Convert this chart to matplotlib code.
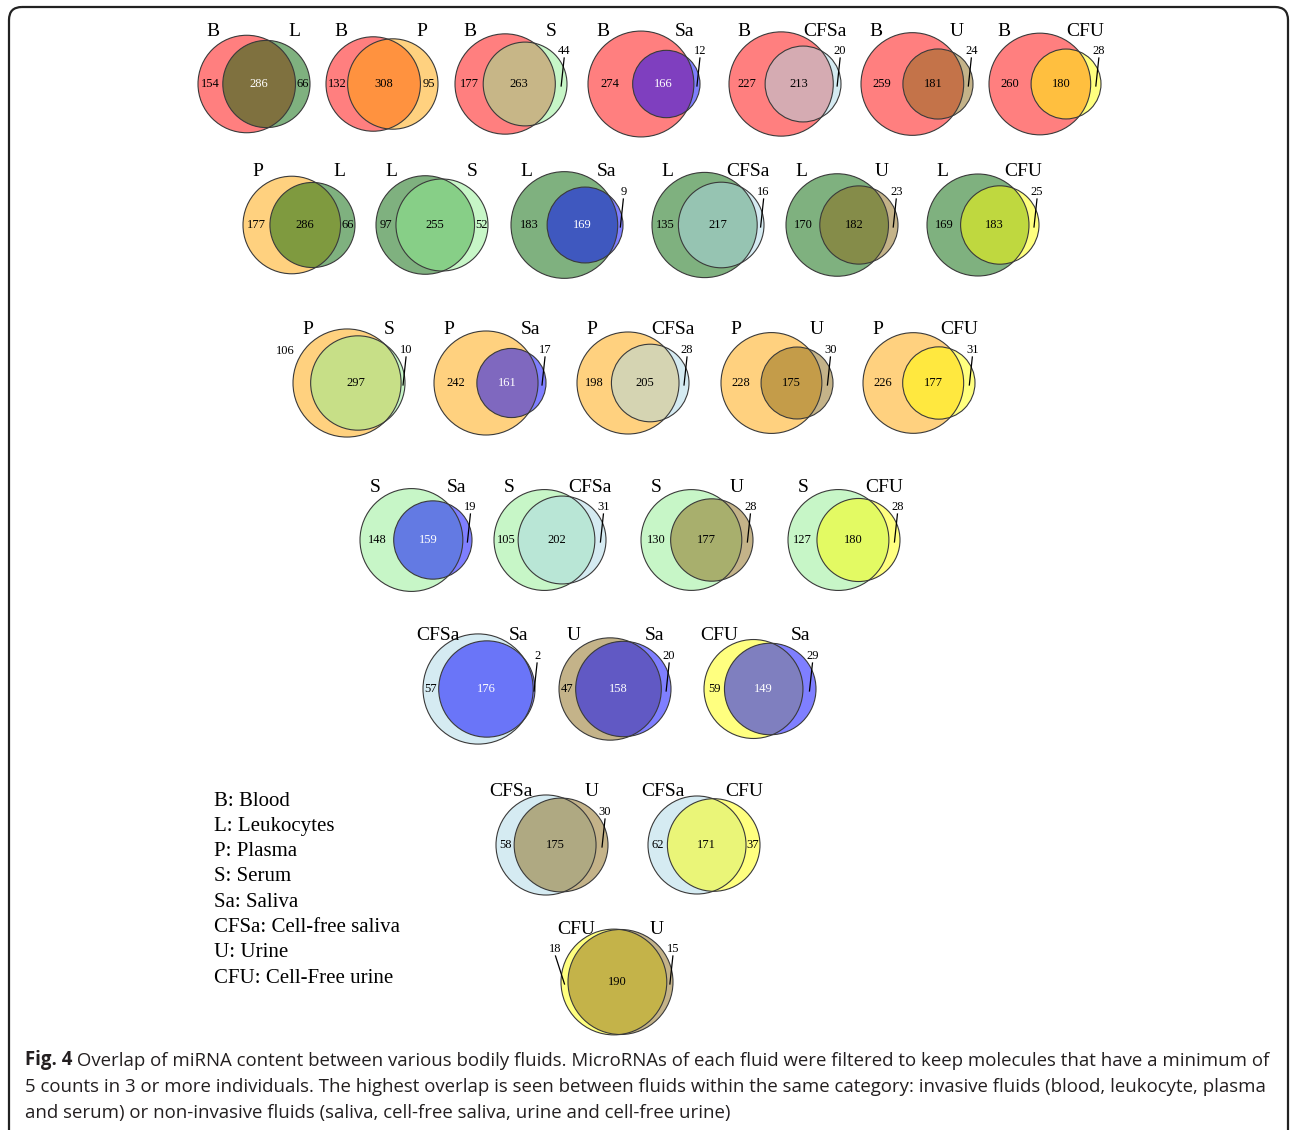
import numpy as np
import matplotlib
matplotlib.use("Agg")
import matplotlib.pyplot as plt
from matplotlib.patches import Circle, FancyBboxPatch
from matplotlib.colors import to_rgb

# pairwise overlaps: (first fluid, second fluid), counts only-first / both / only-second
pairs = [("B", "L"), ("B", "P"), ("B", "S"), ("B", "Sa"), ("B", "CFSa"), ("B", "U"), ("B", "CFU"),
         ("P", "L"), ("L", "S"), ("L", "Sa"), ("L", "CFSa"), ("L", "U"), ("L", "CFU"),
         ("P", "S"), ("P", "Sa"), ("P", "CFSa"), ("P", "U"), ("P", "CFU"),
         ("S", "Sa"), ("S", "CFSa"), ("S", "U"), ("S", "CFU"),
         ("CFSa", "Sa"), ("U", "Sa"), ("CFU", "Sa"),
         ("CFSa", "U"), ("CFSa", "CFU"),
         ("CFU", "U")]
only_a = [154, 132, 177, 274, 227, 259, 260,
          177, 97, 183, 135, 170, 169,
          106, 242, 198, 228, 226,
          148, 105, 130, 127,
          57, 47, 59,
          58, 62,
          18]
both = [286, 308, 263, 166, 213, 181, 180,
        286, 255, 169, 217, 182, 183,
        297, 161, 205, 175, 177,
        159, 202, 177, 180,
        176, 158, 149,
        175, 171,
        190]
only_b = [66, 95, 44, 12, 20, 24, 28,
          66, 52, 9, 16, 23, 25,
          10, 17, 28, 30, 31,
          19, 31, 28, 28,
          2, 20, 29,
          30, 37,
          15]

legend_lines = ["B: Blood", "L: Leukocytes", "P: Plasma", "S: Serum", "Sa: Saliva",
                "CFSa: Cell-free saliva", "U: Urine", "CFU: Cell-Free urine"]

caption_bold = "Fig. 4"
caption_lines = [
    " Overlap of miRNA content between various bodily fluids. MicroRNAs of each fluid were filtered to keep molecules that have a minimum of",
    "5 counts in 3 or more individuals. The highest overlap is seen between fluids within the same category: invasive fluids (blood, leukocyte, plasma",
    "and serum) or non-invasive fluids (saliva, cell-free saliva, urine and cell-free urine)",
]

colors = {"B": "#ff0000", "L": "#006400", "P": "#ffa500", "S": "#90ee90",
          "Sa": "#0000ff", "CFSa": "#add8e6", "U": "#8b6914", "CFU": "#ffff00"}

# layout: rows of diagrams (left edge of each diagram, circle centre height)
row_y = [84, 225, 383, 540, 689, 845, 982]
row_left = [[198, 326, 455, 588, 729, 861, 989],
            [243, 376, 511, 652, 786, 927],
            [293, 434, 577, 721, 863],
            [360, 494, 641, 788],
            [423, 559, 704],
            [496, 648],
            [561]]
WIDTH = 112
# how the side numbers are placed: 'in' inside, 'out' outside, 'call' with a leader line
mode_a = ["in"] * 28
mode_a[13] = "out"
mode_a[27] = "call"
mode_b = ["call"] * 28
for k in (0, 1, 7, 8, 26):
    mode_b[k] = "in"

SERIF = "Liberation Serif"


def lens_area(d, r1, r2):
    if d >= r1 + r2:
        return 0.0
    if d <= abs(r1 - r2):
        return np.pi * min(r1, r2) ** 2
    a1 = r1 ** 2 * np.arccos((d ** 2 + r1 ** 2 - r2 ** 2) / (2 * d * r1))
    a2 = r2 ** 2 * np.arccos((d ** 2 + r2 ** 2 - r1 ** 2) / (2 * d * r2))
    a3 = 0.5 * np.sqrt((-d + r1 + r2) * (d + r1 - r2) * (d - r1 + r2) * (d + r1 + r2))
    return a1 + a2 - a3


def solve_distance(r1, r2, target):
    lo, hi = abs(r1 - r2), r1 + r2
    for _ in range(80):
        mid = (lo + hi) / 2
        if lens_area(mid, r1, r2) > target:
            lo = mid
        else:
            hi = mid
    return (lo + hi) / 2


def blend(names):
    c = np.ones(3)
    for n in names:
        c = 0.5 * c + 0.5 * np.array(to_rgb(colors[n]))
    return c


def text_color(c):
    lum = 0.299 * c[0] + 0.587 * c[1] + 0.114 * c[2]
    if lum < 0.45 or c[2] > max(c[0], c[1]) + 0.15:
        return "white"
    return "black"


fig = plt.figure(figsize=(12.92, 11.3), dpi=100)
ax = fig.add_axes([0, 0, 1, 1])
ax.set_xlim(0, 1292)
ax.set_ylim(1130, 0)
ax.axis("off")

# outer frame
ax.add_patch(FancyBboxPatch((9, 7), 1279, 1140, boxstyle="round,pad=0,rounding_size=13",
                            fill=False, lw=1.6, ec="#222222"))


def number(x, y, val, color="black"):
    ax.text(x, y, str(val), family=SERIF, fontsize=9, color=color, ha="center", va="center")


def callout(xr, cy, val, side):
    dx = 3 if side > 0 else -9
    tx = xr + dx
    number(tx, cy - 33, val)
    ax.plot([tx, xr], [cy - 26, cy + 2], color="black", lw=0.9)


idx = 0
for cy, lefts in zip(row_y, row_left):
    for x0 in lefts:
        na, nb = pairs[idx]
        A = only_a[idx] + both[idx]
        B = only_b[idx] + both[idx]
        ra, rb = np.sqrt(A / np.pi), np.sqrt(B / np.pi)
        d = solve_distance(ra, rb, both[idx])
        left, right = min(-ra, d - rb), max(ra, d + rb)
        s = WIDTH / (right - left)
        xa = x0 + (-left) * s
        xb = xa + d * s
        Ra, Rb = ra * s, rb * s

        for xc, r, n in ((xa, Ra, na), (xb, Rb, nb)):
            ax.add_patch(Circle((xc, cy), r, fc=to_rgb(colors[n]) + (0.5,), ec="none"))
        for xc, r in ((xa, Ra), (xb, Rb)):
            ax.add_patch(Circle((xc, cy), r, fc="none", ec="#3a3a3a", lw=0.8))

        la, lb = xa - Ra, xb - Rb
        ra_, rb_ = xa + Ra, xb + Rb
        # region centres along the axis of the two circles
        xa_only = (la + lb) / 2
        x_mid = (max(la, lb) + min(ra_, rb_)) / 2
        xb_only = (ra_ + rb_) / 2

        if mode_a[idx] == "in":
            number(xa_only, cy, only_a[idx])
        elif mode_a[idx] == "out":
            number(la - 8, cy - 32, only_a[idx])
        else:
            callout(xa_only, cy, only_a[idx], -1)

        number(x_mid, cy, both[idx], text_color(blend([na, nb])))

        if mode_b[idx] == "in":
            number(xb_only, cy, only_b[idx])
        else:
            callout(xb_only, cy, only_b[idx], 1)

        ax.text(x0 + 15, cy - 53, na, family=SERIF, fontsize=14, ha="center", va="center")
        ax.text(x0 + WIDTH - 16, cy - 53, nb, family=SERIF, fontsize=14, ha="center", va="center")
        idx += 1

for i, line in enumerate(legend_lines):
    ax.text(214, 801 + i * 25.3, line, family=SERIF, fontsize=15, ha="left", va="center")

cap_kw = dict(family="Open Sans", fontsize=13.4, color="#231f20")
t = ax.text(25, 1060, caption_bold, weight="bold", ha="left", va="center", **cap_kw)
ax.annotate(caption_lines[0], xy=(1, 0), xycoords=t, ha="left", va="bottom", **cap_kw)
ax.text(25, 1087, caption_lines[1], ha="left", va="center", **cap_kw)
ax.text(25, 1113, caption_lines[2], ha="left", va="center", **cap_kw)

fig.savefig("out.png", dpi=100)
